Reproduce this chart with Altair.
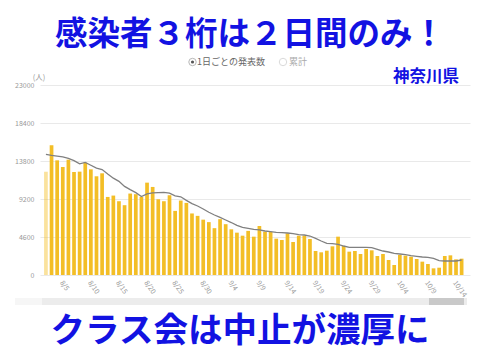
import altair as alt
import pandas as pd

# ---- data ----
dates = [d.strftime("%-m/%-d") for d in pd.date_range("2020-08-02", "2020-10-15")]

daily = [
    12500, 15700, 13880, 13075, 13960, 12470, 12510, 13600, 12790, 11950,
    12310, 9450, 9615, 8930, 8450, 9860, 9780, 9450, 11180, 10660,
    9170, 8930, 9655, 7760, 9010, 8730, 7450, 7160, 6700, 6400,
    5670, 6760, 6150, 5530, 5125, 4760, 5340, 4640, 5930, 5245,
    5205, 4400, 4235, 5040, 3995, 4760, 4760, 4355, 2905, 2745,
    2945, 3470, 4640, 3510, 2825, 2905, 2540, 3145, 2985, 2300,
    2540, 1815, 1210, 2420, 2340, 2220, 1935, 1615, 1330, 805,
    885, 2300, 2380, 1895, 1975,
]

avg7 = [
    14610, 14490, 14400, 14300, 14120, 13840, 13450, 13640, 13280, 12930,
    12770, 12230, 11720, 11340, 10730, 10330, 9970, 9500, 9830, 9930,
    9970, 9990, 9910, 9570, 9470, 9030, 8650, 8350, 7990, 7590,
    7260, 6980, 6660, 6350, 6010, 5770, 5650, 5530, 5450, 5325,
    5245, 5165, 5125, 5085, 5000, 4880, 4840, 4720, 4440, 4115,
    3835, 3795, 3715, 3510, 3350, 3350, 3350, 3350, 3310, 3110,
    2905, 2785, 2625, 2540, 2460, 2340, 2260, 2180, 2140, 2015,
    1735, 1695, 1695, 1695, 1815,
]

x_tick_labels = ["8/5", "8/10", "8/15", "8/20", "8/25", "8/30", "9/4", "9/9",
                 "9/14", "9/19", "9/24", "9/29", "10/4", "10/9", "10/14"]
y_ticks = [0, 4600, 9200, 13800, 18400, 23000]

title_text = "感染者３桁は２日間のみ！"
bottom_text = "クラス会は中止が濃厚に"
region_text = "神奈川県"
legend_on = "1日ごとの発表数"
legend_off = "累計"
unit_text = "(人)"

# ---- build ----
df = pd.DataFrame({
    "idx": list(range(-1, len(dates) - 1)),
    "date": dates,
    "daily": daily,
    "avg": avg7,
})

tick_idx = [dates.index(l) - 1 for l in x_tick_labels]
label_expr = "[" + ",".join("'" + d + "'" for d in dates) + "][datum.value + 1]"

FONT = "Noto Sans CJK JP"
BLUE = "#1212E2"

xenc = alt.X(
    "idx:Q",
    scale=alt.Scale(domain=[-1.165, 73.6], nice=False, zero=False),
    axis=alt.Axis(values=tick_idx, labelExpr=label_expr, labelAngle=55,
                  labelAlign="left", labelBaseline="middle", labelFontSize=7,
                  labelColor="#999999", ticks=False, domain=False, grid=False,
                  title=None, labelPadding=6, labelFlush=False, labelOffset=-2,
                  labelOverlap=False, labelSeparation=0, labelFont=FONT),
)
yscale = alt.Scale(domain=[0, 23000], nice=False)
yaxis = alt.Axis(values=y_ticks, format="d", labelFontSize=7, labelColor="#999999",
                 ticks=False, domain=False, gridColor="#e9e9e9",
                 title=None, labelPadding=6, labelFont=FONT,
                 labelOverlap=False, labelFlush=False)

base = alt.Chart(df).encode(x=xenc)

bars = base.mark_bar(size=3.7, color="#F3BE26").encode(
    y=alt.Y("daily:Q", scale=yscale, axis=yaxis),
    opacity=alt.condition("datum.idx < 0", alt.value(0.45), alt.value(1)),
)

line = base.mark_line(color="#808080", strokeWidth=1.3).encode(
    y=alt.Y("avg:Q", scale=yscale, axis=yaxis),
)

one = pd.DataFrame({"k": [0]})

def txt(text, x, y, size, color, weight="normal", align="center"):
    return alt.Chart(one).mark_text(
        text=text, font=FONT, fontSize=size, fontWeight=weight, color=color,
        align=align, baseline="middle",
    ).encode(x=alt.value(x), y=alt.value(y))

title = txt(title_text, 210, -50, 32.5, BLUE, "bold")
bottom = txt(bottom_text, 200, 247, 34.5, BLUE, "bold")
region = txt(region_text, 386, -8, 16.5, BLUE, "bold")
unit = txt(unit_text, -1, -7, 7.5, "#999999")
leg1 = txt(legend_on, 157, -23, 9, "#666666", align="left")
leg2 = txt(legend_off, 249, -23, 9, "#aaaaaa", align="left")

radio1 = alt.Chart(one).mark_point(shape="circle", size=55, filled=False,
                                   color="#999999", strokeWidth=1).encode(
    x=alt.value(152.5), y=alt.value(-23))
radio1dot = alt.Chart(one).mark_point(shape="circle", size=10, filled=True,
                                      color="#555555", opacity=1).encode(
    x=alt.value(152.5), y=alt.value(-23))
radio2 = alt.Chart(one).mark_point(shape="circle", size=55, filled=False,
                                   color="#cccccc", strokeWidth=1).encode(
    x=alt.value(243), y=alt.value(-23))

scroll_left = alt.Chart(one).mark_rect(color="#f6f6f6").encode(
    x=alt.value(-25), x2=alt.value(2), y=alt.value(213), y2=alt.value(220))
scroll_main = alt.Chart(one).mark_rect(color="#ececec").encode(
    x=alt.value(2), x2=alt.value(427), y=alt.value(213), y2=alt.value(220))
scroll_handle = alt.Chart(one).mark_rect(color="#c9c9c9").encode(
    x=alt.value(389), x2=alt.value(424), y=alt.value(213), y2=alt.value(220))

chart = alt.layer(
    bars, line, scroll_left, scroll_main, scroll_handle,
    title, bottom, region, unit, leg1, leg2, radio1, radio1dot, radio2,
).properties(
    width=430, height=190,
    padding={"left": 32, "top": 77, "right": 2, "bottom": 77},
    autosize=alt.AutoSizeParams(type="none"),
    background="white",
).configure_view(stroke=None).configure_axis(labelOverlap=False)

chart.save("out.html", embed_options={"renderer": "svg", "actions": False})
